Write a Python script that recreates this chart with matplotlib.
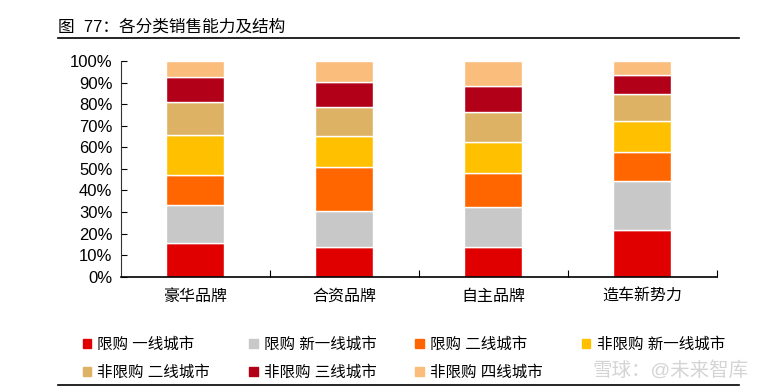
import numpy as np
import matplotlib.pyplot as plt
from matplotlib.lines import Line2D
from matplotlib.patches import Patch

plt.rcParams['font.family'] = ['Liberation Sans', 'Noto Sans CJK SC', 'DejaVu Sans']

categories = ['豪华品牌', '合资品牌', '自主品牌', '造车新势力']
series_names = ['限购 一线城市', '限购 新一线城市', '限购 二线城市', '非限购 新一线城市',
                '非限购 二线城市', '非限购 三线城市', '非限购 四线城市']
# share of each series in each category, %
xg_1 = [15.5, 13.6, 13.9, 21.5]
xg_new1 = [17.6, 16.7, 18.3, 22.7]
xg_2 = [13.9, 20.4, 15.7, 13.5]
fxg_new1 = [18.8, 14.5, 14.4, 14.3]
fxg_2 = [15.2, 13.3, 13.9, 12.6]
fxg_3 = [11.7, 11.9, 12.1, 8.8]
fxg_4 = [7.3, 9.6, 11.7, 6.6]
values = [xg_1, xg_new1, xg_2, fxg_new1, fxg_2, fxg_3, fxg_4]
colors = ['#E00000', '#C8C8C8', '#FF6600', '#FFC000', '#DDB265', '#B20018', '#FBBD7C']

fig = plt.figure(figsize=(7.8, 3.88), dpi=100)
ax = fig.add_axes([0.1547, 0.2869, 0.7641, 0.5559])

x = np.arange(len(categories))
bottom = np.zeros(len(categories))
handles = []
for name, v, c in zip(series_names, values, colors):
    v = np.array(v)
    ax.bar(x, v, 0.39, bottom=bottom, color=c, edgecolor='white', linewidth=1)
    bottom += v
    handles.append(Patch(color=c, label=name))

ax.set_xlim(-0.5, 3.5)
ax.set_ylim(0, 100)
ax.set_yticks(np.arange(0, 101, 10))
ax.set_yticklabels([f'{t}%' for t in range(0, 101, 10)], fontsize=12)
ax.tick_params(axis='y', direction='in', length=4, pad=6)
ax.set_xticks([0.5, 1.5, 2.5, 3.5])
ax.set_xticklabels([])
ax.tick_params(axis='x', direction='in', length=5)
ax.set_xticks(x, minor=True)
ax.set_xticklabels(categories, minor=True, fontsize=11.5)
ax.tick_params(axis='x', which='minor', length=0, pad=9)
for s in ['top', 'right']:
    ax.spines[s].set_visible(False)
ax.spines['left'].set_color('#333333')
ax.spines['bottom'].set_linewidth(1.2)

order = [0, 4, 1, 5, 2, 6, 3]
fig.legend([handles[i] for i in order], [series_names[i] for i in order],
           ncol=4, loc='upper left', bbox_to_anchor=(0.098, 0.148), frameon=False,
           fontsize=11.2, handlelength=0.55, handleheight=0.55, handletextpad=0.4,
           columnspacing=2.5, labelspacing=0.85, borderaxespad=0)

fig.text(0.074, 0.93, '图  77：各分类销售能力及结构', fontsize=12, va='center', ha='left')
fig.add_artist(Line2D([0.074, 0.948], [0.903, 0.903], color='black', lw=1.2))
fig.add_artist(Line2D([0.074, 0.948], [0.008, 0.008], color='black', lw=1.2))
fig.text(0.76, 0.045, '雪球：@未来智库', fontsize=14, color='#aaaaaa', alpha=0.5,
         va='center', ha='left')

fig.savefig('out.png', dpi=100)
